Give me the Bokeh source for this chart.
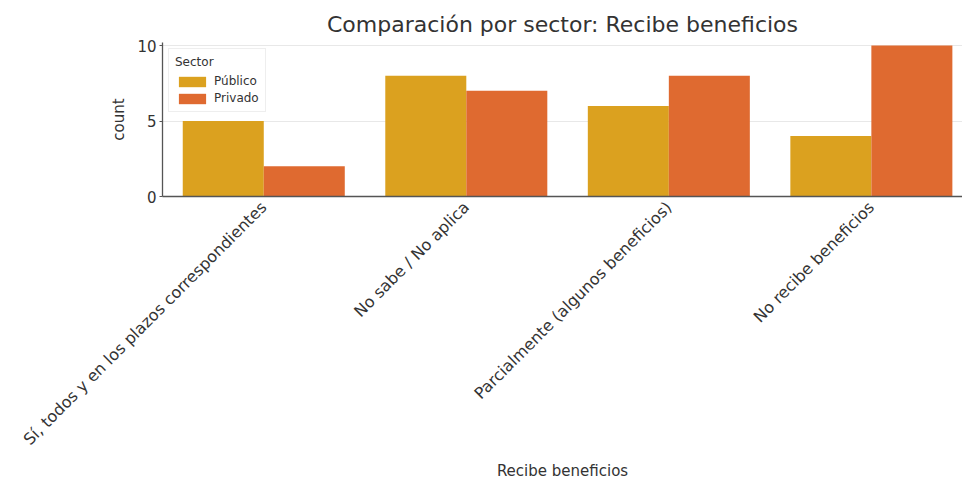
from bokeh.plotting import figure
from bokeh.models import ColumnDataSource, FixedTicker, Range1d, Legend, LegendItem
from bokeh.embed import file_html
from bokeh.resources import INLINE
import math

categories = ["Sí, todos y en los plazos correspondientes", "No sabe / No aplica",
              "Parcialmente (algunos beneficios)", "No recibe beneficios"]
publico = [5, 8, 6, 4]
privado = [2, 7, 8, 10]
series_names = ["Público", "Privado"]
colors = ["#DBA11F", "#DF6A30"]
y_ticks = [0, 5, 10]

FONT = "DejaVu Sans"
idx = list(range(len(categories)))

p = figure(frame_width=800, frame_height=154, output_backend="svg", toolbar_location=None,
           x_range=Range1d(-0.5, 3.45), y_range=Range1d(0, 10.2),
           title="Comparación por sector: Recibe beneficios",
           min_border_left=162, min_border_right=0, min_border_top=42, min_border_bottom=0)

p.title.text_font = FONT
p.title.text_font_size = "22px"
p.title.text_font_style = "normal"
p.title.text_color = "#333333"
p.title.align = "center"
p.title.offset = 0
p.title.standoff = 12

src_pub = ColumnDataSource(dict(x=[i - 0.2 for i in idx], top=publico))
src_pri = ColumnDataSource(dict(x=[i + 0.2 for i in idx], top=privado))
r1 = p.vbar(x="x", top="top", width=0.4, source=src_pub, fill_color=colors[0], line_color=None)
r2 = p.vbar(x="x", top="top", width=0.4, source=src_pri, fill_color=colors[1], line_color=None)

p.xaxis.ticker = FixedTicker(ticks=idx)
p.xaxis.major_label_overrides = {i: c for i, c in zip(idx, categories)}
p.xaxis.major_label_orientation = math.pi / 4
p.xaxis.axis_label = "Recibe beneficios"
p.yaxis.axis_label = "count"
p.yaxis.ticker = FixedTicker(ticks=y_ticks)

for ax in (p.xaxis[0], p.yaxis[0]):
    ax.axis_label_text_font = FONT
    ax.axis_label_text_font_style = "normal"
    ax.axis_label_text_font_size = "15px"
    ax.axis_label_text_color = "#333333"
    ax.major_label_text_font = FONT
    ax.major_label_text_color = "#333333"
    ax.axis_line_color = "#555555"
    ax.axis_line_width = 1.3
    ax.major_tick_line_color = "#555555"
    ax.minor_tick_line_color = None
    ax.major_tick_out = 3
    ax.major_tick_in = 0

p.xaxis.major_label_text_font_size = "16px"
p.yaxis.major_label_text_font_size = "15px"
p.yaxis.major_label_standoff = 3
p.xaxis.major_tick_line_color = None
p.xaxis.axis_label_standoff = 4
p.yaxis.axis_label_standoff = 6

p.xgrid.grid_line_color = None
p.ygrid.grid_line_color = "#e8e8e8"
p.outline_line_color = None

legend = Legend(items=[LegendItem(label=series_names[0], renderers=[r1]),
                       LegendItem(label=series_names[1], renderers=[r2])],
                location="top_left", title="Sector")
legend.title_text_font = FONT
legend.title_text_font_size = "12px"
legend.title_text_font_style = "normal"
legend.title_text_color = "#333333"
legend.label_text_font = FONT
legend.label_text_font_size = "12px"
legend.label_text_color = "#333333"
legend.glyph_width = 34
legend.glyph_height = 13
legend.spacing = 3
legend.padding = 6
legend.margin = 6
legend.border_line_color = "#dddddd"
legend.background_fill_alpha = 0.8
p.add_layout(legend)

open("out.html", "w").write(file_html(p, INLINE))
